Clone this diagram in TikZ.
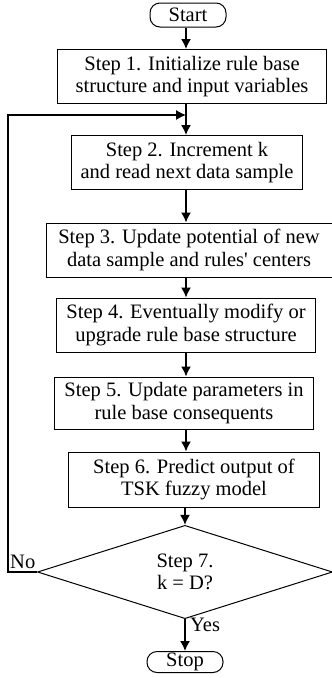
\documentclass[tikz,border=0pt]{standalone}
\usepackage{fontspec}
\setmainfont{Liberation Serif}
\usetikzlibrary{shapes.geometric,arrows.meta}

\begin{document}
\begin{tikzpicture}[x=1pt,y=-1pt,
  stepbox/.style={shape=rectangle,draw,line width=1pt,align=center,inner sep=0pt,minimum height=54pt,font=\fontsize{20.5}{22.5}\selectfont},
  termbox/.style={shape=rectangle,draw,line width=1pt,rounded corners=10pt,minimum width=76pt,inner sep=0pt,font=\fontsize{20.5}{22.5}\selectfont},
  testbox/.style={shape=diamond,draw,line width=1pt,align=center,inner sep=0pt,minimum width=295pt,minimum height=82pt,font=\fontsize{20.5}{22.5}\selectfont},
  flow/.style={->,line width=1.5pt,>={Latex[length=10pt,width=10pt]}},
  answer/.style={inner sep=0pt,font=\fontsize{20.5}{22.5}\selectfont}]
\useasboundingbox (0,0) rectangle (332,678);
\path node (start) at (188,15) [termbox,minimum height=24pt] {Start}
      node (s1) at (192,76.5) [stepbox,minimum width=269pt] {Step 1. Initialize rule base\\structure and input variables}
      node (s2) at (187,162.5) [stepbox,minimum width=231pt] {Step 2. Increment k\\and read next data sample}
      node (s3) at (189,250) [stepbox,minimum width=286pt] {Step 3. Update potential of new\\data sample and rules\textquotesingle\ centers}
      node (s4) at (186,325) [stepbox,minimum width=259pt] {Step 4. Eventually modify or\\upgrade rule base structure}
      node (s5) at (184,403) [stepbox,minimum width=259pt,minimum height=52pt] {Step 5. Update parameters in\\rule base consequents}
      node (s6) at (194,479.5) [stepbox,minimum width=251pt,minimum height=55pt] {Step 6. Predict output of\\TSK fuzzy model}
      node (s7) at (185,572) [testbox] {Step 7.\\k = D?}
      node (stop) at (185,662) [termbox,minimum height=21pt] {Stop};
\coordinate (join) at (186,115);
\coordinate (back) at (8,572);
\draw [flow] (start.south -| 186,0) to (s1.north -| 186,0);
\draw [flow] (s1.south -| 186,0) to (s2.north -| 186,0);
\draw [flow] (s2.south -| 186,0) to (s3.north -| 186,0);
\draw [flow] (s3.south -| 186,0) to (s4.north -| 186,0);
\draw [flow] (s4.south -| 186,0) to (s5.north -| 186,0);
\draw [flow] (s5.south -| 186,0) to (s6.north -| 186,0);
\draw [flow] (s6.south -| 185,0) to (s7.north);
\draw [flow] (s7.south) to (stop.north);
\draw [flow,line width=1.2pt] (s7.west) -- (back) |- (join);
\node [answer,anchor=south west] (no) at (10,569) {No};
\node [answer,anchor=west] (yes) at (190,625) {Yes};
\end{tikzpicture}
\end{document}
